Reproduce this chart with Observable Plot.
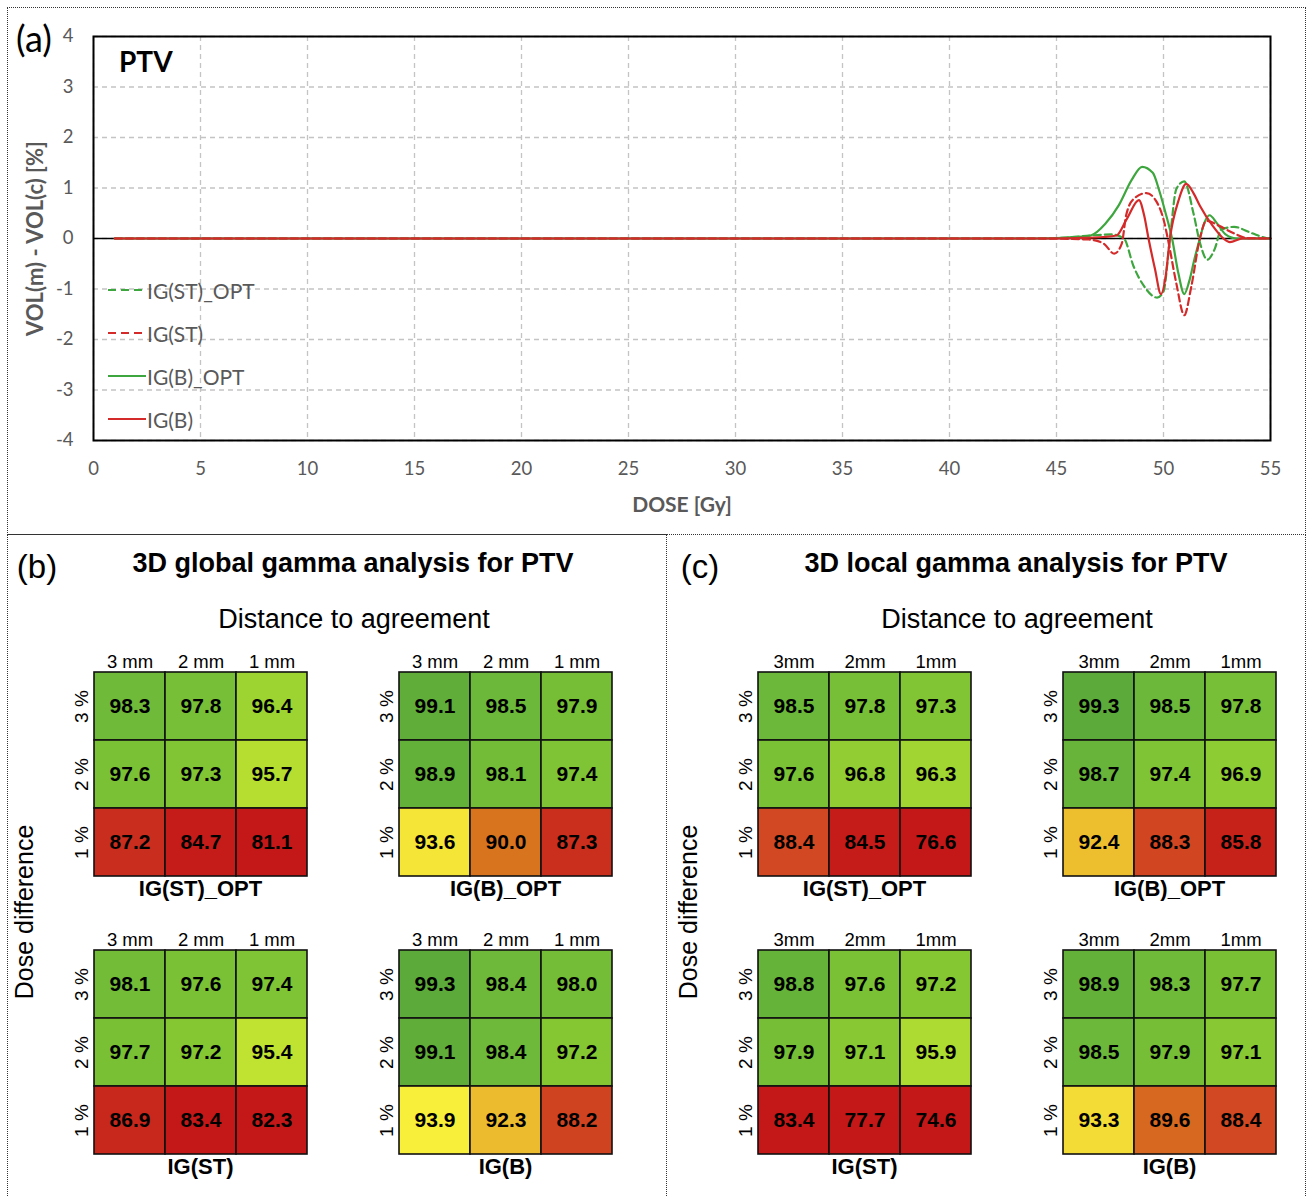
<!DOCTYPE html>
<html><head><meta charset="utf-8">
<script src="https://cdn.jsdelivr.net/npm/d3@7"></script>
<script src="https://cdn.jsdelivr.net/npm/@observablehq/plot@0.6"></script>
<style>
body{margin:0;background:#fff;}
#page{position:relative;width:1307px;height:1197px;overflow:hidden;background:#fff;}
.box{position:absolute;border:1.5px dotted #333;box-sizing:border-box;}
.lbl{position:absolute;white-space:nowrap;line-height:1;}
.fa{font-family:Lato, "Open Sans", sans-serif;}
.fb{font-family:"Liberation Sans", Arial, sans-serif;}
.plot{position:absolute;}
</style></head><body><div id="page"></div>
<script>
// ---------- data: panel (a) ----------
const xTicks = [0,5,10,15,20,25,30,35,40,45,50,55];
const yTicks = [-4,-3,-2,-1,0,1,2,3,4];

const seriesNames = ["IG(ST)_OPT","IG(ST)","IG(B)_OPT","IG(B)"];
const seriesColors = ["#3ea63e","#d42a2a","#3ea63e","#d42a2a"];
const seriesDashed = [true,true,false,false];

const doseSTOpt = [1,44,45.5,46.6,47.6,48.15,48.6,49.1,49.7,50.0,50.3,50.6,50.97,51.4,51.7,52.05,52.4,52.7,53.3,54.1,54.8,55];
const valSTOpt  = [0,0,0.02,0.06,0.08,0,-0.55,-0.95,-1.17,-1.05,0,0.98,1.13,0.5,-0.08,-0.42,-0.2,0.18,0.23,0.11,0.01,0];
const doseST = [1,44,46.5,47.2,47.7,48.05,48.25,48.6,49.2,49.7,50.0,50.2,50.6,50.97,51.3,51.7,52.0,52.6,53.3,53.9,55];
const valST  = [0,0,-0.02,-0.1,-0.3,-0.1,0.45,0.78,0.9,0.71,0.38,0,-0.89,-1.52,-0.95,0,0.35,0.25,0.1,0.01,0];
const doseBOpt = [1,44,45.5,46.6,47.3,47.9,48.5,49.0,49.5,49.8,50.1,50.4,50.7,50.97,51.2,51.45,51.7,51.9,52.15,52.5,52.9,53.4,55];
const valBOpt  = [0,0,0.02,0.06,0.3,0.65,1.15,1.42,1.3,0.95,0.5,0,-0.7,-1.1,-0.85,-0.4,0,0.3,0.46,0.3,0.08,0,0];
const doseB = [1,44,46,47.2,47.8,48.3,48.85,49.1,49.3,49.6,49.88,50.1,50.3,50.7,51.06,51.4,51.7,52.3,52.8,53.1,53.7,55];
const valB  = [0,0,0.01,0.03,0.06,0.4,0.76,0.45,0,-0.6,-1.1,-0.75,0,0.75,1.08,0.9,0.65,0.25,0,-0.07,0,0];

// ---------- data: panels (b) and (c) ----------
const distGlobal = ["3 mm","2 mm","1 mm"];
const distLocal = ["3mm","2mm","1mm"];
const doseDiff = ["3 %","2 %","1 %"];

const gSTOpt = [[98.3,97.8,96.4],[97.6,97.3,95.7],[87.2,84.7,81.1]];
const gBOpt  = [[99.1,98.5,97.9],[98.9,98.1,97.4],[93.6,90.0,87.3]];
const gST    = [[98.1,97.6,97.4],[97.7,97.2,95.4],[86.9,83.4,82.3]];
const gB     = [[99.3,98.4,98.0],[99.1,98.4,97.2],[93.9,92.3,88.2]];
const lSTOpt = [[98.5,97.8,97.3],[97.6,96.8,96.3],[88.4,84.5,76.6]];
const lBOpt  = [[99.3,98.5,97.8],[98.7,97.4,96.9],[92.4,88.3,85.8]];
const lST    = [[98.8,97.6,97.2],[97.9,97.1,95.9],[83.4,77.7,74.6]];
const lB     = [[98.9,98.3,97.7],[98.5,97.9,97.1],[93.3,89.6,88.4]];

const colorStops = [84, 87, 88.5, 90, 92.3, 94, 95.6, 96.5, 97.5, 98.5, 99.4];
const colorRange = ["#c41818","#c8281c","#d24a22","#d8741e","#ecbc2e","#f8f23a","#b8e030","#9ad232","#7cc234","#6cb83a","#5aa83a"];

// ---------- layout helpers ----------
const page = document.getElementById("page");
function box(l,t,w,h){const d=document.createElement("div");d.className="box";Object.assign(d.style,{left:l+"px",top:t+"px",width:w+"px",height:h+"px"});page.appendChild(d);}
function label(text,x,y,{cls="fb",size=18,weight="normal",color="#000",anchor="middle",rotate=0}={}){
  const d=document.createElement("div");d.className="lbl "+cls;d.textContent=text;
  Object.assign(d.style,{left:x+"px",top:y+"px",fontSize:size+"px",fontWeight:weight,color});
  const tx = anchor==="middle"?"-50%":"0";
  d.style.transform=`translate(${tx},-50%)`+(rotate?` rotate(${rotate}deg)`:"");
  if(rotate) d.style.transformOrigin = anchor==="middle"?"50% 50%":"0 50%";
  page.appendChild(d);return d;
}
function place(svg,l,t){svg.classList.add("plot");svg.style.left=l+"px";svg.style.top=t+"px";page.appendChild(svg);}

box(7,7,1299,528);
box(7,534,660,670);
box(666,534,640,670);

// ---------- panel (a) ----------
const lineRows = [];
[[doseSTOpt,valSTOpt],[doseST,valST],[doseBOpt,valBOpt],[doseB,valB]].forEach(([ds,vs],i)=>{
  ds.forEach((d,j)=>lineRows.push({series:seriesNames[i],dose:d,value:vs[j]}));
});
const lineMarks = [0,2,1,3].map(i=>Plot.line(lineRows.filter(r=>r.series===seriesNames[i]),{
  x:"dose",y:"value",stroke:seriesColors[i],strokeWidth:2.2,curve:"monotone-x",
  strokeDasharray: seriesDashed[i] ? "7,4" : null
}));

const chart = Plot.plot({
  width:1300,height:530,marginLeft:93,marginRight:30,marginTop:36,marginBottom:90,
  x:{domain:[0,55]},y:{domain:[-4,4]},
  style:{fontFamily:"Lato, sans-serif",fontSize:"18px",color:"#595959",background:"transparent",overflow:"visible"},
  marks:[
    Plot.gridX(xTicks,{stroke:"#c4c4c4",strokeOpacity:1,strokeWidth:1.3,strokeDasharray:"5,4"}),
    Plot.gridY(yTicks,{stroke:"#c4c4c4",strokeOpacity:1,strokeWidth:1.3,strokeDasharray:"5,4"}),
    Plot.axisX(xTicks,{tickSize:0,tickPadding:21,label:null,tickFormat:d=>String(d),fontSize:18.5}),
    Plot.axisY(yTicks,{tickSize:0,tickPadding:20,label:null,tickFormat:d=>String(d),fontSize:18.5}),
    Plot.ruleY([0],{stroke:"#000",strokeWidth:1.6}),
    ...lineMarks,
    Plot.frame({stroke:"#000",strokeWidth:2}),
    Plot.text(["DOSE [Gy]"],{frameAnchor:"bottom",dy:65,fontWeight:"bold",fontSize:21,fill:"#595959",lineAnchor:"middle"}),
    Plot.text(["VOL(m) - VOL(c) [%]"],{frameAnchor:"left",dx:-58,rotate:-90,textAnchor:"middle",lineAnchor:"middle",fontWeight:"bold",fontSize:22,fill:"#595959"})
  ]
});
place(chart,0,0);

label("(a)",34,38,{cls:"fa",size:36});
label("PTV",119,61,{cls:"fa",size:28,weight:"bold",anchor:"start"});

// legend
const legendY=[290,333,376,419];
seriesNames.forEach((n,i)=>{
  const ns="http://www.w3.org/2000/svg";
  const s=document.createElementNS(ns,"svg");
  s.setAttribute("width",40);s.setAttribute("height",6);
  s.style.position="absolute";s.style.left="107px";s.style.top=(legendY[i]-3)+"px";
  const ln=document.createElementNS(ns,"line");
  ln.setAttribute("x1",1);ln.setAttribute("x2",39);ln.setAttribute("y1",3);ln.setAttribute("y2",3);
  ln.setAttribute("stroke",seriesColors[i]);ln.setAttribute("stroke-width",2);
  if(seriesDashed[i]) ln.setAttribute("stroke-dasharray","8,5");
  s.appendChild(ln);page.appendChild(s);
  label(n,147,legendY[i],{cls:"fa",size:21,color:"#595959",anchor:"start"});
});

// ---------- panels (b),(c) ----------
function heatmap(values,cols,name){
  const rows=[];
  values.forEach((r,i)=>r.forEach((v,j)=>rows.push({dd:doseDiff[i],dist:cols[j],value:v})));
  return Plot.plot({
    width:264,height:269,marginTop:30,marginLeft:40,marginRight:10,marginBottom:35,
    x:{domain:cols,padding:0,label:null},
    y:{domain:doseDiff,padding:0,label:null},
    color:{type:"linear",domain:colorStops,range:colorRange,interpolate:"rgb",clamp:true},
    style:{fontFamily:"'Liberation Sans', Arial, sans-serif",fontSize:"18px",color:"#000",background:"transparent",overflow:"visible"},
    marks:[
      Plot.axisX({anchor:"top",tickSize:0,tickPadding:5,label:null,fontSize:18.5}),
      Plot.axisY({anchor:"left",tickSize:0,tickPadding:6,tickRotate:-90,label:null,fontSize:19}),
      Plot.cell(rows,{x:"dist",y:"dd",fill:"value",stroke:"#111",strokeWidth:1.6,inset:0}),
      Plot.text(rows,{x:"dist",y:"dd",text:d=>d.value.toFixed(1),fontWeight:"bold",fontSize:21,fill:"#000"}),
      Plot.text([name],{frameAnchor:"bottom",lineAnchor:"top",dy:4,fontWeight:"bold",fontSize:22,fill:"#000"})
    ]
  });
}
const gridTops=[672,950];
const panels=[
  {left:[93,398],cols:distGlobal,data:[[gSTOpt,gBOpt],[gST,gB]],
   tag:"(b)",tagX:37,title:"3D global gamma analysis for PTV",titleX:353,ddX:24},
  {left:[757,1062],cols:distLocal,data:[[lSTOpt,lBOpt],[lST,lB]],
   tag:"(c)",tagX:700,title:"3D local gamma analysis for PTV",titleX:1016,ddX:688}
];
const names=[["IG(ST)_OPT","IG(B)_OPT"],["IG(ST)","IG(B)"]];
panels.forEach(p=>{
  label(p.tag,p.tagX,566,{size:33});
  label(p.title,p.titleX,563,{size:27,weight:"bold"});
  label("Distance to agreement",p.titleX+1,619,{size:27});
  label("Dose difference",p.ddX,912,{size:25,rotate:-90});
  for(let r=0;r<2;r++)for(let c=0;c<2;c++){
    place(heatmap(p.data[r][c],p.cols,names[r][c]),p.left[c]-40,gridTops[r]-30);
  }
});
</script></body></html>
